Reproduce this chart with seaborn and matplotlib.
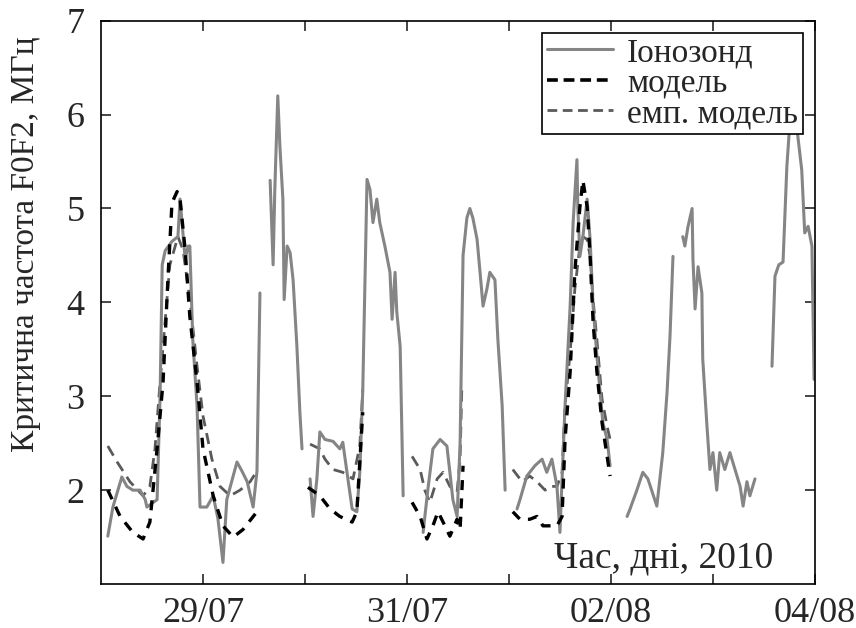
import numpy as np
import pandas as pd
import matplotlib
matplotlib.use("Agg")
import matplotlib.pyplot as plt
from matplotlib.lines import Line2D
import seaborn as sns

nan = np.nan

# hours since 28/07/2010 00:00 ; NaN marks a gap in the record
iono_hours = [1.6, 2.8, 4.9, 6.1, 7.5, 9.2, 10.4, 10.8, 13.2, 13.9, 14.4, 15.1, 16.7, 18.1, 18.6,
              19.8, 20.5, 20.9, 21.6, 22.6, 23.3, 24.9, 26.4, 27.5, 28.7, 29.6, 30.8, 32.0, 33.2,
              34.4, 35.8, 36.7, 37.4, nan,
              39.8, 40.5, 40.9, 41.6, 42.1, 42.8, 43.1, 43.8, 44.5, 45.2, 46.1, 46.8, 47.3, nan,
              49.2, 49.9, 50.8, 51.5, 52.7, 54.6, 56.2, 56.9, 58.1, 59.1, 60.2, 60.9, 61.6, 62.6,
              63.3, 64.0, 64.9, 65.6, 66.8, 68.0, 68.5, 69.2, 69.6, 70.4, 71.1, nan,
              75.8, 76.9, 78.1, 79.8, 81.4, 82.1, 82.8, 83.8, 84.5, 85.2, 86.1, 86.8, 87.5, 88.5,
              89.2, 89.9, 90.8, 91.5, 92.7, 93.4, 94.4, 95.1, nan,
              97.9, 98.6, 100.2, 102.1, 103.8, 104.9, 106.1, 107.3, 108.0, 109.2, 110.4, 111.1,
              112.0, 112.2, 112.7, 113.4, 114.4, 115.1, 115.8, 116.7, 117.4, 118.1, 119.1, 119.8, nan,
              123.8, 124.5, 126.1, 127.5, 128.7, 130.8, 132.2, 133.2, 133.9, 134.6, nan,
              136.9, 137.4, 138.1, 139.1, 139.3, 139.8, 140.5, 141.4, 141.6, 142.6, 143.3, 144.0,
              144.9, 145.6, 146.8, 148.0, 149.2, 150.4, 151.1, 152.0, 152.7, 153.9, nan,
              157.9, 158.6, 159.5, 160.5, 161.4, 162.1, 162.8, 163.8, 164.9, 165.6, 166.4, 167.3, 167.8]
iono_f0f2 = [1.51, 1.82, 2.14, 2.04, 2.0, 2.0, 1.9, 1.82, 1.9, 3.0, 4.4, 4.55, 4.65, 4.7, 5.1,
             4.46, 4.6, 4.6, 3.6, 2.9, 1.82, 1.82, 1.94, 1.7, 1.23, 1.9, 2.1, 2.3, 2.2,
             2.09, 1.82, 2.2, 4.1, nan,
             5.3, 4.4, 5.2, 6.2, 5.66, 5.1, 4.03, 4.6, 4.53, 4.24, 3.53, 2.83, 2.44, nan,
             2.12, 1.72, 2.12, 2.62, 2.54, 2.52, 2.44, 2.51, 2.12, 1.8, 1.77, 2.19, 3.07, 5.31,
             5.2, 4.85, 5.1, 4.85, 4.6, 4.32, 3.82, 4.32, 3.9, 3.53, 1.94, nan,
             1.55, 2.0, 2.44, 2.54, 2.47, 2.19, 1.9, 1.72, 2.5, 4.5, 4.9, 5.0, 4.9, 4.67,
             4.32, 3.96, 4.14, 4.32, 4.24, 3.6, 2.9, 2.0, nan,
             1.8, 1.9, 2.15, 2.26, 2.33, 2.19, 2.33, 2.04, 1.55, 2.9, 3.96, 4.85,
             5.52, 5.02, 4.49, 4.7, 5.1, 4.67, 3.96, 3.43, 3.07, 2.72, 2.54, 2.26, nan,
             1.72, 1.8, 2.0, 2.19, 2.12, 1.83, 2.4, 3.04, 3.64, 4.49, nan,
             4.7, 4.6, 4.8, 5.0, 4.46, 3.93, 4.38, 4.1, 3.4, 2.68, 2.22, 2.4,
             2.0, 2.4, 2.22, 2.4, 2.22, 2.04, 1.83, 2.09, 1.94, 2.12, nan,
             3.32, 4.28, 4.4, 4.43, 5.45, 5.91, 6.0, 5.84, 5.41, 4.74, 4.81, 4.6, 3.18]

model_hours = [1.6, 4.5, 7.5, 9.9, 11.5, 13.2, 14.6, 15.8, 16.7, 17.9, 18.6, 19.8, 20.9, 22.6,
               24.0, 26.4, 28.7, 31.1, 33.4, 36.7, nan,
               48.7, 51.5, 53.9, 56.2, 59.1, 60.2, 60.9, 61.6, nan,
               73.2, 75.1, 76.7, 78.1, 79.3, 80.5, 82.1, 83.8, 84.5, 85.2, nan,
               96.9, 98.6, 100.9, 102.6, 104.0, 105.6, 107.3, 108.5, 109.2, 110.4, 111.5, 112.7,
               113.4, 114.4, 115.1, 115.8, 116.7, 117.9, 119.1, 119.8]
model_f0f2 = [2.0, 1.72, 1.55, 1.48, 1.66, 2.44, 3.15, 4.3, 5.06, 5.18, 5.1, 4.56, 3.85, 3.15,
              2.44, 1.94, 1.62, 1.5, 1.58, 1.77, nan,
              2.03, 1.94, 1.8, 1.72, 1.66, 1.77, 2.3, 2.83, nan,
              1.87, 1.72, 1.48, 1.62, 1.77, 1.66, 1.51, 1.69, 1.58, 2.26, nan,
              1.77, 1.69, 1.69, 1.72, 1.62, 1.62, 1.62, 1.72, 2.54, 3.26, 4.32, 5.02,
              5.3, 5.02, 4.49, 3.79, 3.26, 2.72, 2.36, 2.15]

emp_hours = [1.6, 3.8, 6.8, 9.9, 11.5, 12.7, 13.9, 14.6, 16.2, 18.1, 19.3, 20.9, 22.6, 24.0,
             26.1, 28.0, 30.4, 32.7, 35.1, 36.9, nan,
             49.2, 51.5, 52.7, 54.6, 56.9, 59.3, 60.9, 61.6, nan,
             73.2, 75.1, 76.2, 77.4, 79.1, 80.5, 82.1, 83.8, 84.5, 84.9, nan,
             96.9, 99.1, 100.9, 102.6, 104.5, 105.6, 107.3, 108.5, 109.2, 110.4, 111.5, 112.7,
             113.4, 114.4, 115.1, 115.8, 116.7, 117.9, 119.1, 119.8]
emp_f0f2 = [2.47, 2.3, 2.09, 1.94, 2.04, 2.44, 3.15, 3.53, 4.4, 4.7, 4.56, 4.03, 3.32, 2.79,
            2.33, 2.04, 1.94, 2.0, 2.09, 2.22, nan,
            2.49, 2.44, 2.33, 2.22, 2.19, 2.12, 2.47, 3.07, nan,
            2.36, 2.22, 2.0, 1.87, 2.12, 2.19, 2.04, 1.98, 2.33, 3.07, nan,
            2.22, 2.09, 2.15, 2.09, 2.0, 2.04, 2.04, 2.19, 2.9, 3.47, 4.14, 4.6,
            4.7, 4.67, 4.49, 4.03, 3.6, 2.97, 2.68, 2.54]

tick_hours = [24, 48, 72, 96, 120, 144, 168]
tick_labels = ["29/07", "", "31/07", "", "02/08", "", "04/08"]
y_ticks = [2, 3, 4, 5, 6, 7]

legend_labels = ["Іонозонд", "модель", "емп. модель"]
y_label = "Критична частота F0F2, МГц"
x_label = "Час, дні, 2010"


def to_frame(hours, vals):
    h = np.asarray(hours, float)
    v = np.asarray(vals, float)
    seg = np.cumsum(np.isnan(h))
    df = pd.DataFrame({"h": h, "v": v, "seg": seg})
    return df.dropna()


sns.set_style("ticks")
plt.rcParams["font.family"] = ["Liberation Serif", "DejaVu Serif"]
plt.rcParams["xtick.direction"] = "in"
plt.rcParams["ytick.direction"] = "in"

fig = plt.figure(figsize=(8.56, 6.28), dpi=100)
ax = fig.add_axes([0.118, 0.070, 0.834, 0.897])

c_iono = "#858585"
c_model = "#000000"
c_emp = "#5a5a5a"

sns.lineplot(data=to_frame(emp_hours, emp_f0f2), x="h", y="v", units="seg", estimator=None,
             sort=False, color=c_emp, lw=2.0, ax=ax, linestyle=(0, (4, 2.5)))
sns.lineplot(data=to_frame(iono_hours, iono_f0f2), x="h", y="v", units="seg", estimator=None,
             sort=False, color=c_iono, lw=2.2, ax=ax)
sns.lineplot(data=to_frame(model_hours, model_f0f2), x="h", y="v", units="seg", estimator=None,
             sort=False, color=c_model, lw=2.4, ax=ax, linestyle=(0, (3, 2.5)))

ax.set_xlim(0, 168)
ax.set_ylim(1, 7)
ax.set_xticks(tick_hours)
ax.set_xticklabels(tick_labels)
ax.set_yticks(y_ticks)
ax.tick_params(axis="both", which="both", direction="in", length=7, width=1.2,
               top=True, right=True, labelsize=26)
ax.tick_params(axis="y", pad=12)
ax.tick_params(axis="x", pad=9)
for s in ax.spines.values():
    s.set_linewidth(1.2)
    s.set_color("black")
ax.set_xlabel("")
ax.set_ylabel(y_label, fontsize=24)
ax.yaxis.set_label_coords(-0.084, 0.604)
ax.text(0.942, 0.046, x_label, transform=ax.transAxes, ha="right", va="center", fontsize=27)

handles = [Line2D([], [], color=c_iono, lw=2.2),
           Line2D([], [], color=c_model, lw=2.6, linestyle=(0, (3, 1.6))),
           Line2D([], [], color=c_emp, lw=2.0, linestyle=(0, (3.5, 2)))]
leg = ax.legend(handles, legend_labels, loc="upper right", bbox_to_anchor=(0.983, 0.979),
                fontsize=24, frameon=True, fancybox=False, borderpad=0.15, labelspacing=0.0,
                handlelength=2.0, handletextpad=0.4, borderaxespad=0.0)
leg.get_frame().set_edgecolor("black")
leg.get_frame().set_linewidth(1.2)
leg.get_frame().set_alpha(1)
leg.set_zorder(10)

fig.savefig("out.png", dpi=100)
